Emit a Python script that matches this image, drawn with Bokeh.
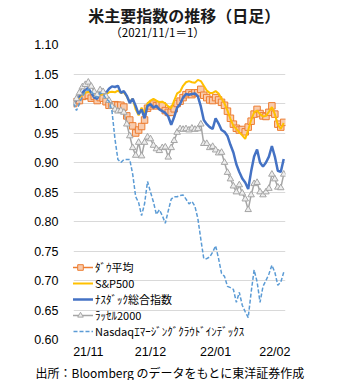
from bokeh.plotting import figure
from bokeh.layouts import column
from bokeh.models import Range1d, FixedTicker, Legend, LegendItem, NumeralTickFormatter, Label, Title
from bokeh.embed import file_html
from bokeh.resources import INLINE

# ---- data (ratio to 2021/11/1, one value per trading day) ----
title_text = "米主要指数の推移（日足）"
subtitle_text = "（2021/11/1＝1）"
source_text = "出所：Bloomberg のデータをもとに東洋証券作成"
x_tick_labels = ["21/11", "21/12", "22/01", "22/02"]
month_start_day = [0, 21, 43, 63]
y_ticks = [0.60, 0.65, 0.70, 0.75, 0.80, 0.85, 0.90, 0.95, 1.00, 1.05, 1.10]

series_names = ["ﾀﾞｳ平均", "S&P500", "ﾅｽﾀﾞｯｸ総合指数", "ﾗｯｾﾙ2000",
                "Nasdaqｴﾏｰｼﾞﾝｸﾞｸﾗｳﾄﾞｲﾝﾃﾞｯｸｽ"]

dow = [1.000, 1.003, 1.005, 1.012, 1.013, 1.014, 1.009, 1.012, 1.005, 1.010,
       1.009, 1.003, 0.997, 0.997, 0.998, 0.997, 0.997, 0.994, 0.979, 0.972,
       0.962, 0.950, 0.955, 0.961, 0.972, 0.992, 0.996, 0.999, 0.996, 0.998,
       0.996, 0.988, 0.985, 0.985, 0.991, 1.000, 1.004, 1.010, 1.015, 1.018,
       1.015, 1.018, 1.018, 1.024, 1.014, 1.010, 1.006, 1.005, 1.010, 1.006,
       1.002, 0.997, 0.987, 0.975, 0.965, 0.958, 0.955, 0.956, 0.952, 0.960,
       0.970, 0.982, 0.990, 0.983, 0.979, 0.978, 0.985, 0.996, 0.982, 0.965,
       0.960, 0.968]

sp500 = [1.000, 1.006, 1.010, 1.015, 1.018, 1.020, 1.017, 1.013, 1.012, 1.015,
         1.016, 1.016, 1.019, 1.020, 1.019, 1.022, 1.018, 1.019, 1.012, 1.003,
         1.008, 0.990, 0.980, 0.993, 0.983, 1.000, 1.005, 1.008, 1.005, 1.002,
         1.003, 1.000, 0.995, 0.992, 1.005, 1.017, 1.020, 1.030, 1.036, 1.038,
         1.036, 1.035, 1.040, 1.038, 1.030, 1.022, 1.018, 1.018, 1.021, 1.017,
         1.008, 1.000, 0.988, 0.974, 0.962, 0.957, 0.951, 0.946, 0.940, 0.955,
         0.972, 0.985, 0.988, 0.982, 0.978, 0.979, 0.986, 0.994, 0.982, 0.964,
         0.957, 0.967]

nasdaq = [1.000, 1.006, 1.013, 1.018, 1.024, 1.026, 1.018, 1.010, 1.008, 1.020,
          1.021, 1.018, 1.025, 1.029, 1.028, 1.030, 1.018, 1.021, 1.013, 1.001,
          1.008, 0.996, 0.982, 0.990, 0.975, 0.996, 0.999, 0.993, 0.996, 0.990,
          0.987, 0.984, 0.978, 0.964, 0.977, 0.993, 0.999, 1.010, 1.016, 1.015,
          1.016, 1.017, 1.012, 0.995, 0.972, 0.965, 0.960, 0.957, 0.975, 0.966,
          0.955, 0.952, 0.945, 0.930, 0.917, 0.897, 0.884, 0.873, 0.866, 0.855,
          0.885, 0.910, 0.922, 0.900, 0.893, 0.900, 0.910, 0.928, 0.910, 0.886,
          0.884, 0.906]

russell = [1.000, 1.008, 1.018, 1.028, 1.032, 1.036, 1.029, 1.020, 1.015, 1.023,
           1.020, 1.012, 1.005, 0.995, 0.990, 0.987, 0.988, 0.985, 0.965, 0.945,
           0.925, 0.912, 0.934, 0.911, 0.934, 0.943, 0.940, 0.929, 0.923, 0.920,
           0.925, 0.926, 0.909, 0.925, 0.937, 0.951, 0.957, 0.956, 0.957, 0.955,
           0.958, 0.956, 0.957, 0.965, 0.932, 0.932, 0.925, 0.927, 0.921, 0.916,
           0.917, 0.900, 0.883, 0.872, 0.860, 0.850, 0.862, 0.848, 0.838, 0.820,
           0.845, 0.864, 0.866, 0.850, 0.845, 0.850, 0.856, 0.880, 0.872, 0.858,
           0.857, 0.880]

cloud = [1.000, 0.988, 1.000, 1.012, 1.020, 1.024, 1.020, 1.015, 1.010, 1.018,
         1.016, 1.008, 1.004, 0.987, 0.940, 0.905, 0.900, 0.905, 0.905, 0.905,
         0.880, 0.842, 0.832, 0.810, 0.830, 0.868, 0.850, 0.833, 0.812, 0.820,
         0.810, 0.797, 0.818, 0.838, 0.842, 0.842, 0.844, 0.845, 0.838, 0.830,
         0.834, 0.826, 0.805, 0.770, 0.737, 0.737, 0.740, 0.748, 0.759, 0.737,
         0.712, 0.707, 0.690, 0.688, 0.685, 0.663, 0.680, 0.658, 0.647, 0.637,
         0.680, 0.718, 0.698, 0.663, 0.690, 0.700, 0.711, 0.726, 0.714, 0.692,
         0.697, 0.714]

days = list(range(len(dow)))

JP = "Noto Sans CJK JP"
NUM = "Liberation Sans"

W = 340
HEAD_H = 38
MAIN_H = 380 - HEAD_H

# ---- header (title + subtitle) ----
head = figure(width=W, height=HEAD_H, output_backend="svg", toolbar_location=None,
              x_range=Range1d(0, W), y_range=Range1d(0, HEAD_H),
              x_axis_type=None, y_axis_type=None, min_border=0)
head.outline_line_color = None
head.grid.visible = False
head.background_fill_color = "white"
head.border_fill_color = "white"
head.add_layout(Label(x=177.5, y=HEAD_H - 14, text=title_text,
                      text_align="center", text_baseline="middle",
                      text_font=JP, text_font_size="16px", text_font_style="bold",
                      text_color="#1a1a1a"))
head.add_layout(Label(x=59, y=HEAD_H - 31, text=subtitle_text,
                      text_align="left", text_baseline="middle",
                      text_font=JP, text_font_size="11.5px", text_color="#000000"))

# ---- main chart ----
p = figure(width=W, height=MAIN_H, output_backend="svg", toolbar_location=None,
           x_range=Range1d(0, 71.6), y_range=Range1d(0.60, 1.10),
           min_border_left=73, min_border_right=55,
           min_border_top=6, min_border_bottom=40)
p.outline_line_color = None
p.background_fill_color = "white"
p.border_fill_color = "white"
p.title.text = ""
p.title.standoff = 0

p.xgrid.visible = False
p.ygrid.ticker = FixedTicker(ticks=y_ticks)
p.ygrid.grid_line_color = "#d9d9d9"
p.ygrid.grid_line_width = 1

p.yaxis.ticker = FixedTicker(ticks=y_ticks)
p.yaxis.formatter = NumeralTickFormatter(format="0.00")
p.yaxis.axis_line_color = None
p.yaxis.major_tick_line_color = None
p.yaxis.minor_tick_line_color = None
p.yaxis.major_tick_out = 0
p.yaxis.major_tick_in = 0
p.yaxis.major_label_standoff = 15
p.yaxis.major_label_text_font = NUM
p.yaxis.major_label_text_font_size = "12.5px"
p.yaxis.major_label_text_color = "#000000"

x_ticks = [m + 5 for m in month_start_day]
p.xaxis.ticker = FixedTicker(ticks=x_ticks)
p.xaxis.major_label_overrides = {t: lab for t, lab in zip(x_ticks, x_tick_labels)}
p.xaxis.axis_line_color = None
p.xaxis.major_tick_line_color = None
p.xaxis.minor_tick_line_color = None
p.xaxis.major_tick_out = 0
p.xaxis.major_tick_in = 0
p.xaxis.major_label_standoff = 5
p.xaxis.major_label_text_font = NUM
p.xaxis.major_label_text_font_size = "12.5px"
p.xaxis.major_label_text_color = "#000000"

p.add_layout(Title(text=source_text, align="left", offset=-38,
                   text_font=JP, text_font_size="12px", text_font_style="normal",
                   text_color="#000000", standoff=0), "below")

r_dow_l = p.line(days, dow, line_color="#ED7D31", line_width=1.5)
r_dow_m = p.scatter(days, dow, marker="square", size=6.5, line_color="#ED7D31",
                    fill_color="#F8CBAD", line_width=1)
r_sp = p.line(days, sp500, line_color="#FFC000", line_width=2)
r_nq = p.line(days, nasdaq, line_color="#4472C4", line_width=2.5)
r_ru_l = p.line(days, russell, line_color="#A5A5A5", line_width=1.5)
r_ru_m = p.scatter(days, russell, marker="triangle", size=6.5, line_color="#A5A5A5",
                   fill_color="#EDEDED", line_width=1)
r_cl = p.line(days, cloud, line_color="#5B9BD5", line_width=1.5, line_dash="4 2")

legend = Legend(items=[
    LegendItem(label=series_names[0], renderers=[r_dow_l, r_dow_m]),
    LegendItem(label=series_names[1], renderers=[r_sp]),
    LegendItem(label=series_names[2], renderers=[r_nq]),
    LegendItem(label=series_names[3], renderers=[r_ru_l, r_ru_m]),
    LegendItem(label=series_names[4], renderers=[r_cl]),
], location=(-6, 0), orientation="vertical",
    background_fill_alpha=0, border_line_color=None,
    glyph_width=26, glyph_height=14, label_height=14, spacing=0,
    padding=0, margin=0, label_standoff=2, label_text_line_height=1.0,
    label_text_font=JP, label_text_font_size="11px", label_text_color="#000000")
p.add_layout(legend)

open("out.html", "w").write(file_html(column(head, p, spacing=0), INLINE))
